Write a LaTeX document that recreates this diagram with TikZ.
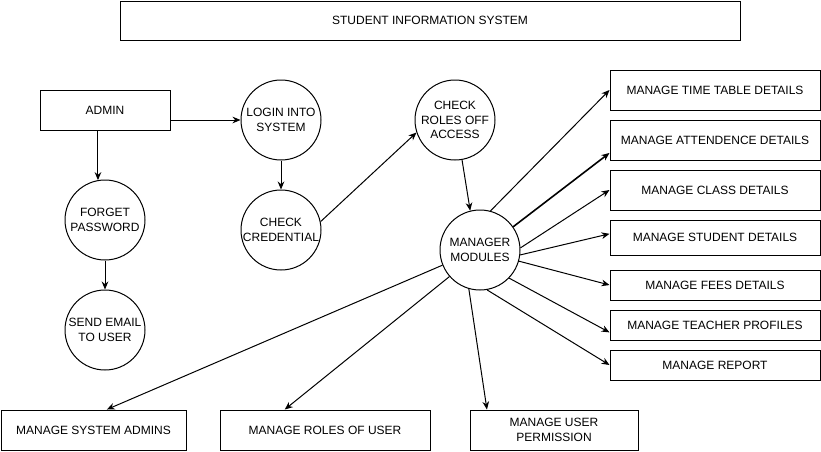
\documentclass[tikz,border=0pt]{standalone}
\usepackage{fontspec}
\setmainfont{Liberation Sans}
\usetikzlibrary{arrows.meta}

\begin{document}
\begin{tikzpicture}[
  x=0.75pt,
  y=-0.75pt,
  font=\fontsize{9}{11}\selectfont,
  line width=0.75pt,
  procbox/.style={
    rectangle,
    draw,
    inner sep=0pt,
    align=center
  },
  proccircle/.style={
    circle,
    draw,
    minimum size=60pt,
    inner sep=0pt,
    align=center
  },
  flow/.style={
    -{Stealth[length=6pt, width=5pt]},
    line width=0.75pt
  }
]
\useasboundingbox (0,0) rectangle (821,451);

% Title
\node[procbox, minimum width=465pt, minimum height=29.25pt] (title) at (430,20.5) {STUDENT INFORMATION SYSTEM};

% Left part: admin, login and password
\node[procbox, minimum width=97.5pt, minimum height=30pt] (admin) at (105,110) {ADMIN};
\node[proccircle] (login) at (281,120) {LOGIN INTO\\SYSTEM};
\node[proccircle] (cred) at (281,230) {CHECK\\CREDENTIAL};
\node[proccircle] (forget) at (105,220) {FORGET\\PASSWORD};
\node[proccircle] (email) at (105,330) {SEND EMAIL\\TO USER};
\node[proccircle] (roles) at (455,120) {CHECK\\ROLES OFF\\ACCESS};
\node[proccircle] (mm) at (480,250) {MANAGER\\MODULES};

% Right column of modules
\node[procbox, minimum width=157.5pt, minimum height=30pt] (ttd) at (715,90) {MANAGE TIME TABLE DETAILS};
\node[procbox, minimum width=157.5pt, minimum height=30pt] (att) at (715,140) {MANAGE ATTENDENCE DETAILS};
\node[procbox, minimum width=157.5pt, minimum height=30pt] (cls) at (715,190) {MANAGE CLASS DETAILS};
\node[procbox, minimum width=157.5pt, minimum height=26.25pt] (stu) at (715,237.5) {MANAGE STUDENT DETAILS};
\node[procbox, minimum width=157.5pt, minimum height=22.5pt] (fees) at (715,285) {MANAGE FEES DETAILS};
\node[procbox, minimum width=157.5pt, minimum height=22.5pt] (tch) at (715,325) {MANAGE TEACHER PROFILES};
\node[procbox, minimum width=157.5pt, minimum height=22.5pt] (rep) at (715,365) {MANAGE REPORT};

% Bottom row of modules
\node[procbox, minimum width=138.75pt, minimum height=30pt] (sysadm) at (93.5,430) {MANAGE SYSTEM ADMINS};
\node[procbox, minimum width=157.5pt, minimum height=30pt] (rolesu) at (325,430) {MANAGE ROLES OF USER};
\node[procbox, minimum width=126pt, minimum height=30pt] (perm) at (554,430) {MANAGE USER\\PERMISSION};

% Flows
\draw[flow] (admin.east |- login.west) -- (login.west);
\draw[flow] (forget.100 |- admin.south) -- (forget.100);
\draw[flow] (forget.south) -- (email.north);
\draw[flow] (login.south) -- (cred.north);
\draw[flow] (cred.12) -- (roles.198);
\draw[flow] (roles.280) -- (mm.104);

\draw[flow] (mm.75) -- (ttd.west);
\draw[flow, line width=1.2pt] (mm.35) -- (att.187);
\draw[flow] (mm.3) -- (cls.west);
\draw[flow] (mm.-7) -- (stu.178);
\draw[flow] (mm.-16) -- (fees.west);
\draw[flow] (mm.-44) -- (tch.184);
\draw[flow] (mm.-80) -- (rep.west);

\draw[flow] (mm.-106) -- (perm.163);
\draw[flow] (mm.-139) -- (rolesu.153);
\draw[flow] (mm.-158) -- (sysadm.57);

\end{tikzpicture}
\end{document}
